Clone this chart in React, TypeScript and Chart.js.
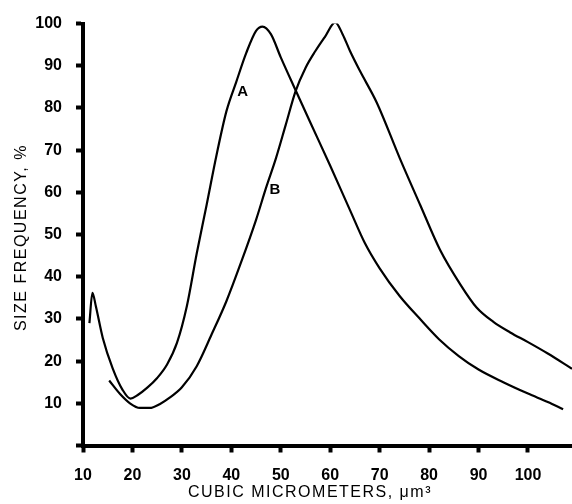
import React, { useEffect, useRef } from "react";
import { Chart, registerables } from "chart.js";

Chart.register(...registerables);

// Curve A (peak near 46 µm³)
const curveAX = [11.3, 11.9, 12.6, 14, 16, 18, 19.6, 21, 23, 25, 27, 29, 31, 33, 35, 37, 39, 41, 43, 45, 46.3, 48, 50, 53, 56, 60, 64, 67, 70, 74, 78, 82, 86, 90, 95, 100, 104, 107.1];
const curveAY = [29, 36.2, 33, 25.5, 18.3, 13.2, 11.1, 11.9, 13.7, 16, 19.2, 24.3, 33, 45.5, 57, 68.8, 79.2, 86.2, 93, 98.3, 99.3, 97.5, 92, 84.2, 76.5, 66.3, 55.8, 48, 42, 35.5, 30.2, 25.2, 21.2, 18, 15, 12.3, 10.3, 8.6];

// Curve B (peak near 61 µm³)
const curveBX = [15.3, 17.5, 19.5, 21.5, 23.5, 25.5, 27.6, 30, 33, 36, 39, 42, 45, 47, 49, 51, 53, 55, 57, 59, 61, 62.5, 64, 66, 69.4, 74.1, 78.2, 82.2, 86.3, 89.6, 93, 96.4, 100, 104, 108.9];
const curveBY = [15.4, 12.2, 10, 8.9, 8.9, 9.8, 11.4, 13.8, 18.8, 26.3, 34.2, 43.5, 53.5, 61, 68, 76, 84, 89.5, 93.5, 97, 100.3, 97.5, 93.5, 88.8, 81.3, 68, 57, 46.4, 38.2, 32.7, 29.3, 26.8, 24.5, 21.8, 18.2];

const xTicks = [10, 20, 30, 40, 50, 60, 70, 80, 90, 100];
const yTicks = [0, 10, 20, 30, 40, 50, 60, 70, 80, 90, 100];
const yTickLabels = ["", "10", "20", "30", "40", "50", "60", "70", "80", "90", "100"];

const curveNames = ["A", "B"];
const curveLabelX = [42.3, 48.8];
const curveLabelY = [83.9, 60.6];

const xTitle = "CUBIC MICROMETERS, \u03bcm\u00b3";
const yTitle = "SIZE FREQUENCY, %";

const toPoints = (xs: number[], ys: number[]) => xs.map((x, i) => ({ x, y: ys[i] }));

const textPlugin = {
  id: "textPlugin",
  afterDraw(chart: any) {
    const { ctx, chartArea, scales } = chart;
    ctx.save();
    ctx.fillStyle = "#000";
    ctx.font = "bold 15px 'Liberation Sans', Arial, sans-serif";
    ctx.textAlign = "center";
    ctx.textBaseline = "middle";
    curveNames.forEach((n, i) => {
      ctx.fillText(n, scales.x.getPixelForValue(curveLabelX[i]), scales.y.getPixelForValue(curveLabelY[i]));
    });
    ctx.font = "16px 'Liberation Sans', Arial, sans-serif";
    (ctx as any).letterSpacing = "1.5px";
    ctx.textAlign = "left";
    ctx.textBaseline = "middle";
    ctx.fillText(xTitle, chartArea.left + 105, 493);
    ctx.translate(22, chartArea.top + 214);
    ctx.rotate(-Math.PI / 2);
    ctx.textAlign = "center";
    ctx.fillText(yTitle, 0, 0);
    ctx.restore();
  },
};

export default function App() {
  const ref = useRef<HTMLCanvasElement | null>(null);
  useEffect(() => {
    if (!ref.current) return;
    const tickFont = { family: "'Liberation Sans', Arial, sans-serif", size: 16, weight: "bold" as const };
    const lineStyle = {
      borderColor: "#000",
      borderWidth: 2.2,
      pointRadius: 0,
      cubicInterpolationMode: "monotone" as const,
      fill: false,
    };
    const chart = new Chart(ref.current, {
      type: "line",
      data: {
        datasets: [
          { label: "A", data: toPoints(curveAX, curveAY), ...lineStyle },
          { label: "B", data: toPoints(curveBX, curveBY), ...lineStyle },
        ],
      },
      options: {
        responsive: false,
        animation: false,
        devicePixelRatio: 1,
        layout: { padding: { top: 20.5, right: 0, left: 0, bottom: 0 } },
        plugins: { legend: { display: false }, tooltip: { enabled: false } },
        scales: {
          x: {
            type: "linear",
            min: 10,
            max: 108.9,
            afterBuildTicks: (s: any) => {
              s.ticks = xTicks.map((v) => ({ value: v }));
            },
            afterFit: (s: any) => {
              s.height = 58.5;
            },
            ticks: {
              font: tickFont,
              color: "#000",
              padding: 13,
              autoSkip: false,
              maxRotation: 0,
              callback: (v: any) => String(v),
            },
            grid: {
              display: true,
              drawOnChartArea: false,
              drawTicks: true,
              tickLength: 7,
              tickWidth: 4,
              tickColor: "#000",
            },
            border: { display: true, color: "#000", width: 4 },
          },
          y: {
            type: "linear",
            min: 0,
            max: 100,
            afterBuildTicks: (s: any) => {
              s.ticks = yTicks.map((v) => ({ value: v }));
            },
            afterFit: (s: any) => {
              s.width = 83;
            },
            ticks: {
              font: tickFont,
              color: "#000",
              padding: 14,
              autoSkip: false,
              callback: (_v: any, i: number) => yTickLabels[i],
            },
            grid: {
              display: true,
              drawOnChartArea: false,
              drawTicks: true,
              tickLength: 7,
              tickWidth: 4,
              tickColor: "#000",
            },
            border: { display: true, color: "#000", width: 4 },
          },
        },
      },
      plugins: [textPlugin],
    });
    return () => chart.destroy();
  }, []);
  return (
    <div style={{ position: "absolute", left: 0, top: 0, width: 572, height: 504, background: "#fff" }}>
      <canvas ref={ref} width={572} height={504} style={{ display: "block" }} />
    </div>
  );
}
